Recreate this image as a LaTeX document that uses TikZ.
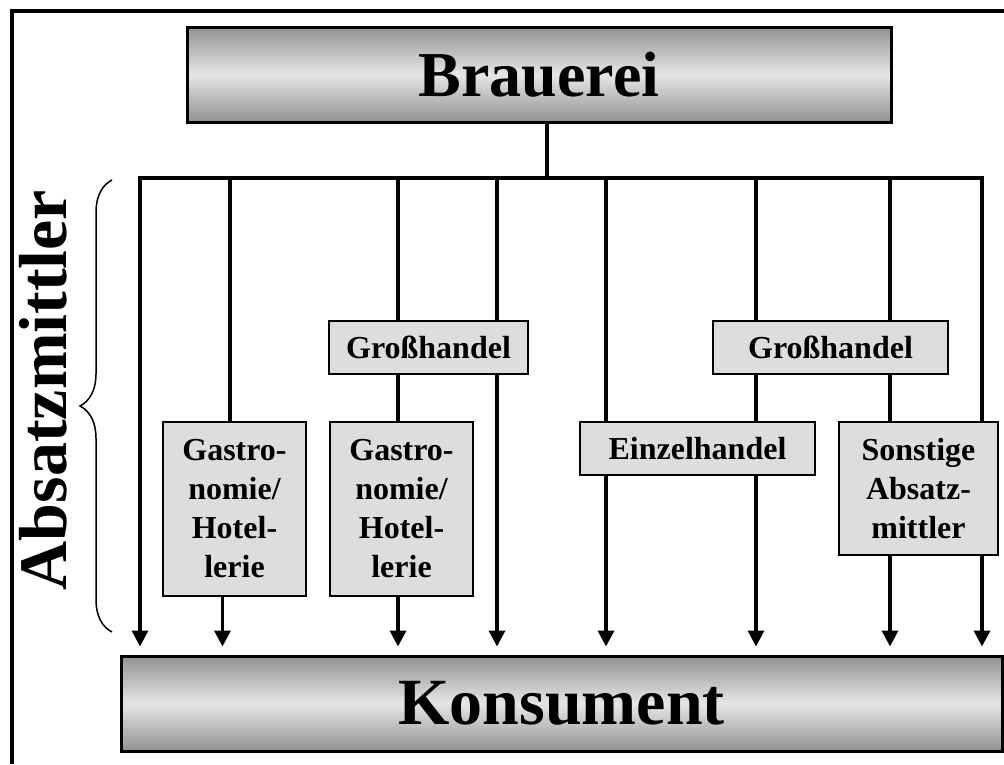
\documentclass[tikz,border=0pt]{standalone}
\usepackage{fontspec}
\setmainfont{Liberation Serif}
\usetikzlibrary{arrows.meta,decorations.pathreplacing,backgrounds}

\definecolor{kastengrau}{RGB}{221,221,221}
\definecolor{balkendunkel}{RGB}{145,145,145}
\definecolor{balkenhell}{RGB}{230,230,230}

\tikzset{
  balken/.style={draw=black, line width=3pt, top color=balkendunkel,
    bottom color=balkendunkel, middle color=balkenhell, inner sep=0pt},
  kasten/.style={draw=black, line width=2.5pt, fill=kastengrau, inner sep=0pt,
    align=center, font=\fontsize{32}{39}\selectfont\bfseries},
  weg/.style={line width=3.5pt},
  pfeil/.style={weg, -{Triangle[length=16pt,width=16pt]}, shorten >=8pt}
}

\begin{document}
\begin{tikzpicture}[x=1pt,y=-1pt]
            \useasboundingbox (0,0) rectangle (1004,764);
            \draw[line width=4pt] (12,764) -- (12,11) -- (1004,11);

            \node[balken, minimum width=704pt, minimum height=95pt] (brauerei) at (539,74.5)
              {\fontsize{64}{64}\selectfont\bfseries Brauerei};
            \node[balken, minimum width=881pt, minimum height=95pt] (konsument) at (561.5,703.5)
              {\fontsize{66}{66}\selectfont\bfseries Konsument};

            \node[kasten, minimum width=199pt, minimum height=53pt] (gross1) at (428.5,347.5) {Großhandel};
            \node[kasten, minimum width=235pt, minimum height=53pt] (gross2) at (830.5,347.5) {Großhandel};
            \node[kasten, minimum width=143pt, minimum height=174pt] (gastro1) at (234.5,509)
              {Gastro-\\nomie/\\Hotel-\\lerie};
            \node[kasten, minimum width=143pt, minimum height=174pt] (gastro2) at (401.5,509)
              {Gastro-\\nomie/\\Hotel-\\lerie};
            \node[kasten, minimum width=235pt, minimum height=53pt] (einzel) at (697.5,448.5) {Einzelhandel};
            \node[kasten, minimum width=159pt, minimum height=133pt] (sonstige) at (918.5,488.5)
              {Sonstige\\Absatz-\\mittler};

            \node[rotate=90, font=\fontsize{68}{68}\selectfont\bfseries] (absatz) at (43,390) {Absatzmittler};
            \draw[line width=1.5pt, decorate, decoration={brace, amplitude=32pt}] (112,632) -- (112,180);

            \coordinate (stamm) at (547,178);
            \foreach \x/\n in {140/1,230/2,398/3,497/4,606/5,756/6,890/7,982/8}
              \coordinate (b\n) at (\x,178);

            \begin{scope}[on background layer]
              \draw[weg] (brauerei.south -| stamm) -- (stamm);
              \draw[weg, line cap=rect] (b1) -- (b8);
              \foreach \n in {1,3,4,5,6,7,8}
                \draw[pfeil] (b\n) -- (b\n |- konsument.north);
              \draw[weg] (b2) -- (b2 |- gastro1.north);
              \draw[pfeil] ([xshift=-12pt]gastro1.south) -- ([xshift=-12pt]gastro1.south |- konsument.north);
            \end{scope}
          \end{tikzpicture}
\end{document}
